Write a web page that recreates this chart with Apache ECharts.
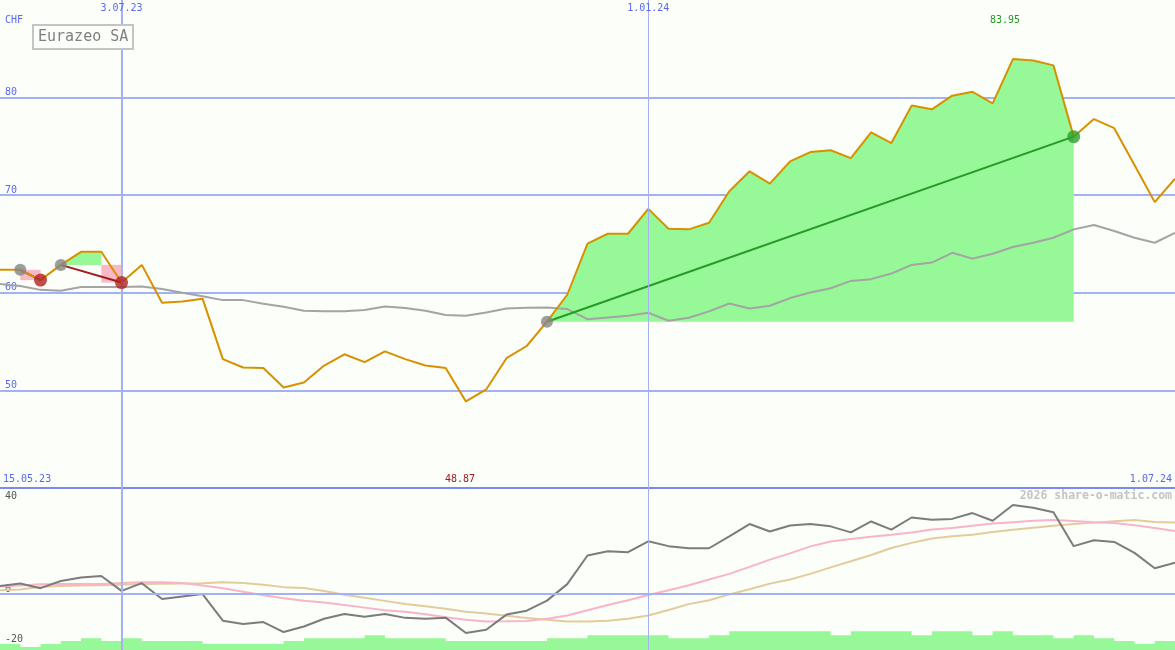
<!DOCTYPE html>
<html><head><meta charset="utf-8">
<script src="https://cdn.jsdelivr.net/npm/echarts@6/dist/echarts.min.js"></script>
<style>html,body{margin:0;padding:0;background:#fcfefa;}#c{width:1175px;height:650px;}</style>
</head><body><div id="c"></div>
<script>
const dates = ['2023-05-22','2023-05-29','2023-06-05','2023-06-12','2023-06-19','2023-06-26','2023-07-03','2023-07-10','2023-07-17','2023-07-24',
'2023-07-31','2023-08-07','2023-08-14','2023-08-21','2023-08-28','2023-09-04','2023-09-11','2023-09-18','2023-09-25','2023-10-02',
'2023-10-09','2023-10-16','2023-10-23','2023-10-30','2023-11-06','2023-11-13','2023-11-20','2023-11-27','2023-12-04','2023-12-11',
'2023-12-18','2023-12-25','2024-01-01','2024-01-08','2024-01-15','2024-01-22','2024-01-29','2024-02-05','2024-02-12','2024-02-19',
'2024-02-26','2024-03-04','2024-03-11','2024-03-18','2024-03-25','2024-04-01','2024-04-08','2024-04-15','2024-04-22','2024-04-29',
'2024-05-06','2024-05-13','2024-05-20','2024-05-27','2024-06-03','2024-06-10','2024-06-17','2024-06-24','2024-07-01'];
const closes = [62.35,62.35,61.3,62.86,64.2,64.2,61.05,62.86,58.98,59.1,
59.4,53.2,52.35,52.3,50.3,50.8,52.55,53.7,52.9,54.0,
53.2,52.55,52.3,48.87,50.1,53.3,54.55,57.04,59.8,65.03,
66.05,66.05,68.6,66.56,66.5,67.17,70.4,72.45,71.19,73.47,
74.42,74.6,73.8,76.43,75.34,79.18,78.8,80.2,80.6,79.4,
83.95,83.8,83.3,76.0,77.8,76.87,73.1,69.29,71.7];
const benchmark = [60.89,60.7,60.3,60.2,60.6,60.6,60.6,60.64,60.4,60.0,
59.64,59.25,59.25,58.88,58.57,58.16,58.1,58.1,58.24,58.6,
58.44,58.16,57.72,57.65,57.99,58.4,58.47,58.5,58.33,57.3,
57.48,57.65,57.96,57.14,57.45,58.1,58.9,58.4,58.67,59.46,
60.03,60.47,61.22,61.4,61.97,62.86,63.1,64.1,63.5,64.0,
64.7,65.13,65.64,66.5,66.94,66.33,65.64,65.13,66.15];
const momentum = [3.5,4.55,2.55,5.66,7.1,7.8,1.4,4.7,-2.1,-1.0,
0,-11.4,-12.8,-12.0,-16.3,-13.9,-10.6,-8.5,-9.7,-8.5,
-10.2,-10.6,-10.1,-16.7,-15.3,-8.8,-7.1,-2.8,4.3,16.6,
18.4,18.0,22.7,20.6,19.7,19.7,24.8,30.1,26.9,29.5,
30.1,29.1,26.5,31.2,27.7,32.9,31.9,32.3,34.8,31.5,
38.3,37.1,35.2,20.6,23.1,22.4,17.7,11.1,13.5];
const signalPink = [3.3,3.7,4.2,4.3,4.3,4.3,4.8,5.1,5.1,4.8,
3.7,2.5,1.0,-0.5,-1.8,-2.8,-3.6,-4.7,-5.8,-6.9,
-7.6,-8.6,-9.9,-11.0,-11.8,-11.7,-11.5,-10.6,-9.2,-6.9,
-4.7,-2.6,-0.4,1.7,3.8,6.3,8.7,11.7,14.8,17.5,
20.5,22.6,23.7,24.6,25.5,26.5,27.7,28.4,29.4,30.3,
30.9,31.5,31.8,31.4,30.9,30.5,29.6,28.4,27.1];
const signalTan = [1.7,2.0,3.2,3.5,3.7,3.8,4.0,4.3,4.4,4.6,
4.7,5.1,4.8,4.0,3.0,2.6,1.3,-0.3,-1.6,-2.9,
-4.2,-5.2,-6.3,-7.6,-8.3,-9.3,-10.3,-11.0,-11.8,-11.8,
-11.4,-10.6,-9.2,-6.8,-4.3,-2.6,-0.1,2.1,4.5,6.3,
8.7,11.5,14.1,16.8,19.8,22.0,23.9,24.8,25.5,26.7,
27.6,28.5,29.4,30.1,30.7,31.3,31.8,31.0,30.8];
const volume = [2,1,2,3,4,3,4,3,3,3,
2,2,2,2,3,4,4,4,5,4,
4,4,3,3,3,3,3,4,4,5,
5,5,5,4,4,5,6.3,6.3,6.3,6.3,
6.3,5,6.3,6.3,6.3,5,6.3,6.3,5,6.3,
5,5,4,5,4,3,2,3,3];
const trades = [{entry:1, exit:2},{entry:3, exit:6},{entry:27, exit:53}];
const markerDates = ['2023-07-03','2024-01-01'];
const cornerDates = ['15.05.23','1.07.24'];
const oscTicks = [-20,0,40];
const title = 'Eurazeo SA';
const currency = 'CHF';
const watermark = '2026 share-o-matic.com';

const BG='#fcfefa', GRID='#a2b2f2', SEP='#7a8aee', BLUE='#5868f0', MONO='"DejaVu Sans Mono", monospace';
const ts = s => { const [y,m,d] = s.split('-').map(Number); return new Date(y, m-1, d).getTime(); };
const X = dates.map(ts);
const pair = (arr) => arr.map((v,i)=>[X[i], v]);
const fmtDate = s => { const [y,m,d] = s.split('-'); return (+d)+'.'+m+'.'+y.slice(2); };

const chart = echarts.init(document.getElementById('c'));
const series = [];
series.push({type:'line', xAxisIndex:0, yAxisIndex:0, data:pair(closes), z:0, silent:true, symbol:'none',
  lineStyle:{opacity:0}, markLine:{symbol:'none', silent:true, label:{show:false}, animation:false,
  data:[{xAxis:ts(markerDates[0]), lineStyle:{width:2, color:GRID, type:'solid'}},
        {xAxis:ts(markerDates[1]), lineStyle:{width:1, color:GRID, type:'solid'}}]}});
series.push({type:'line', xAxisIndex:1, yAxisIndex:1, data:pair(momentum), z:0, silent:true, symbol:'none',
  lineStyle:{opacity:0}, markLine:{symbol:'none', silent:true, label:{show:false}, animation:false,
  data:[{xAxis:ts(markerDates[0]), lineStyle:{width:2, color:GRID, type:'solid'}},
        {xAxis:ts(markerDates[1]), lineStyle:{width:1, color:GRID, type:'solid'}},
        {yAxis:0, lineStyle:{width:2, color:GRID, type:'solid'}}]}});
const entries = [], exitsWin = [], exitsLoss = [];
trades.forEach(t => {
  const ep = closes[t.entry], xp = closes[t.exit];
  let lastUp = t.entry;
  for (let k=t.entry; k<=t.exit; k++) { if (closes[k] >= ep) lastUp = k; else break; }
  if (lastUp > t.entry) {
    const d = []; for (let k=t.entry; k<=lastUp; k++) d.push([X[k], closes[k]]);
    series.push({type:'line', xAxisIndex:0, yAxisIndex:0, data:d, symbol:'none', z:1, silent:true,
      lineStyle:{width:0}, areaStyle:{color:'#96f896', opacity:1, origin:ep}});
  }
  if (lastUp < t.exit) {
    series.push({type:'line', xAxisIndex:0, yAxisIndex:0, data:[[X[lastUp], xp],[X[t.exit], xp]], symbol:'none', z:1, silent:true,
      lineStyle:{width:0}, areaStyle:{color:'#f8b8c8', opacity:1, origin:ep}});
  }
  const win = xp > ep;
  series.push({type:'line', xAxisIndex:0, yAxisIndex:0, data:[[X[t.entry], ep],[X[t.exit], xp]], symbol:'none', z:3, silent:true,
    lineStyle:{width:2, color: win ? '#259a25' : '#a01c1c'}});
  entries.push([X[t.entry], ep]);
  (win ? exitsWin : exitsLoss).push([X[t.exit], xp]);
});
series.push({type:'line', xAxisIndex:0, yAxisIndex:0, data:pair(benchmark), symbol:'none', z:2, lineStyle:{width:2, color:'#a4a4a4'}});
series.push({type:'line', xAxisIndex:0, yAxisIndex:0, data:pair(closes), symbol:'none', z:4, lineStyle:{width:2, color:'#d89000'}});
series.push({type:'scatter', xAxisIndex:0, yAxisIndex:0, data:entries, symbolSize:12, z:5, itemStyle:{color:'#858585'}});
series.push({type:'scatter', xAxisIndex:0, yAxisIndex:0, data:exitsLoss, symbolSize:13, z:5, itemStyle:{color:'#b02222'}});
series.push({type:'scatter', xAxisIndex:0, yAxisIndex:0, data:exitsWin, symbolSize:13, z:5, itemStyle:{color:'#2ca02c'}});
series.push({type:'line', xAxisIndex:1, yAxisIndex:2, data:pair(volume), step:'end', symbol:'none', z:3, silent:true,
  lineStyle:{width:0}, areaStyle:{color:'#96f896', opacity:1}});
series.push({type:'line', xAxisIndex:1, yAxisIndex:1, data:pair(signalTan), symbol:'none', z:2, lineStyle:{width:2, color:'#e2cc9c'}});
series.push({type:'line', xAxisIndex:1, yAxisIndex:1, data:pair(signalPink), symbol:'none', z:2, lineStyle:{width:2, color:'#f8b4c8'}});
series.push({type:'line', xAxisIndex:1, yAxisIndex:1, data:pair(momentum), symbol:'none', z:2, lineStyle:{width:2, color:'#7c7c7c'}});

const xCommon = {type:'time', min:X[0], max:X[X.length-1], axisTick:{show:false}, axisLabel:{show:false}, splitLine:{show:false}};
chart.setOption({
  animation:false,
  backgroundColor:BG,
  title:{text:title, left:33, top:25, padding:[4,5,3,5], borderColor:'#c4c4c4', borderWidth:2, backgroundColor:BG,
    textStyle:{fontFamily:MONO, fontSize:15, fontWeight:'normal', color:'#808080', lineHeight:17}},
  grid:[{left:0, top:-2, width:1177, height:490}, {left:0, top:487, width:1177, height:164.5}],
  xAxis:[Object.assign({}, xCommon, {gridIndex:0, position:'bottom', axisLine:{show:true, onZero:false, lineStyle:{color:SEP, width:2}}}),
         Object.assign({}, xCommon, {gridIndex:1, axisLine:{show:false}})],
  yAxis:[
    {gridIndex:0, type:'value', min:40, max:90, interval:10, axisLine:{show:false}, axisTick:{show:false},
      splitLine:{show:true, showMinLine:false, showMaxLine:false, lineStyle:{color:GRID, width:2}},
      axisLabel:{inside:true, margin:5, verticalAlign:'bottom', color:BLUE, fontFamily:MONO, fontSize:10, showMinLabel:false, showMaxLabel:false}},
    {gridIndex:1, type:'value', min:-24, max:46, axisLine:{show:false}, axisTick:{show:false}, splitLine:{show:false},
      axisLabel:{inside:true, margin:5, verticalAlign:'bottom', color:'#555', fontFamily:MONO, fontSize:10, customValues:oscTicks,
        formatter: v => (v < 0 ? '{lo|' + v + '}' : String(v)),
        rich:{lo:{lineHeight:2, fontFamily:MONO, fontSize:10, color:'#555'}}}},
    {gridIndex:1, type:'value', min:0, max:55, show:false, splitLine:{show:false}}
  ],
  series: series
});

const px = (d, v) => chart.convertToPixel({xAxisIndex:0, yAxisIndex:0}, [d, v]);
const maxV = Math.max(...closes), minV = Math.min(...closes);
const maxI = closes.indexOf(maxV), minI = closes.indexOf(minV);
const t = (text, x, y, fill, align, extra) => ({type:'text', x:x, y:y, silent:true, z:100,
  style:Object.assign({text:text, fill:fill, font:'10px '+MONO, align:align||'center', verticalAlign:'middle'}, extra||{})});
const g = [];
markerDates.forEach(d => g.push(t(fmtDate(d), px(ts(d), 50)[0], 8, BLUE)));
g.push(t(maxV.toFixed(2), px(X[maxI], maxV)[0] - 8, 20, '#1f9a1f'));
g.push(t(minV.toFixed(2), px(X[minI], minV)[0] - 6, 479, '#a01818'));
g.push(t(cornerDates[0], 3, 479, BLUE, 'left'));
g.push(t(cornerDates[1], 1172, 479, BLUE, 'right'));
g.push(t(currency, 5, 20, BLUE, 'left'));
g.push(t(watermark, 1172, 496, '#c4c4c4', 'right', {font:'bold 11.5px '+MONO}));
chart.setOption({graphic:g});
</script></body></html>
